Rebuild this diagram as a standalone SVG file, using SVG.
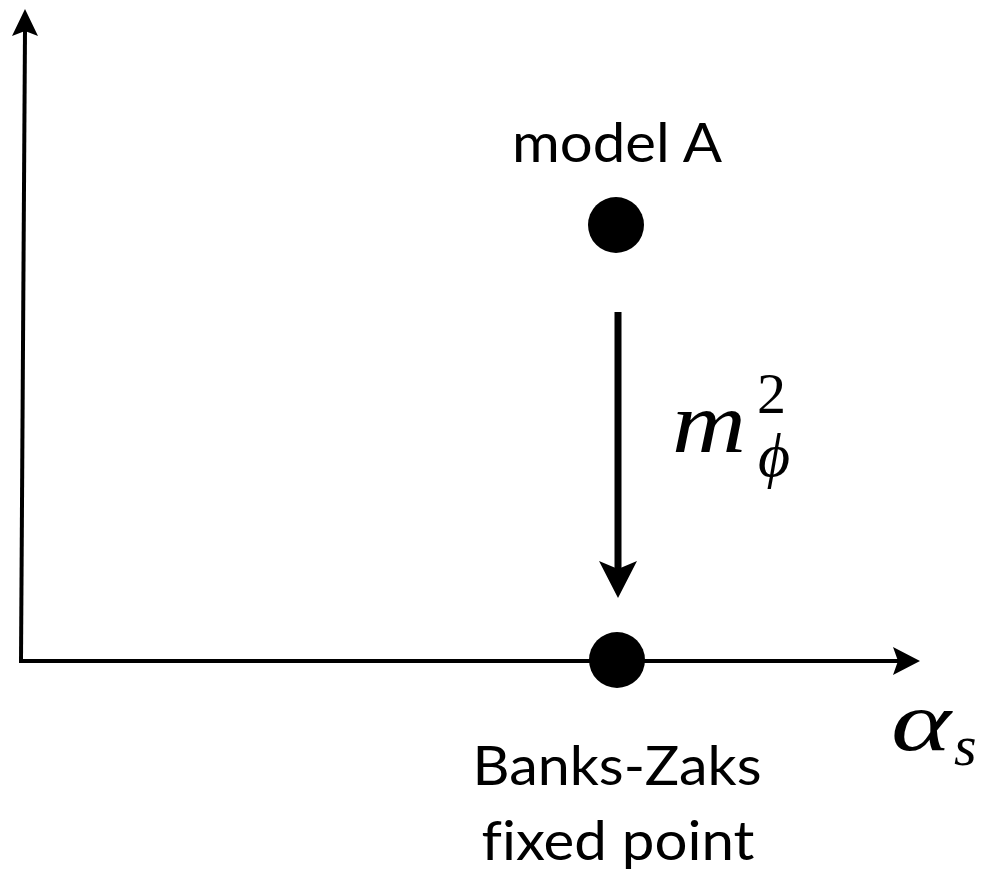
<svg xmlns="http://www.w3.org/2000/svg" width="989" height="881" viewBox="0 0 989 881">
<style>
.lbl{font-family:Lato,"Open Sans","Liberation Sans",sans-serif;font-size:55px;fill:#000;font-variant-ligatures:none}
.math{font-family:"Liberation Serif","DejaVu Serif",serif;font-style:italic;fill:#000}
.up{font-family:"Liberation Serif","DejaVu Serif",serif;font-style:normal;fill:#000}
.ax{stroke:#000;stroke-width:4;fill:none}
.shaft{stroke:#000;stroke-width:7;fill:none}
.head{fill:#000}
.dot{fill:#000}
</style>
<g id="connectors">
<line class="ax" x1="21" y1="661" x2="25" y2="30"/>
<path class="head" d="M25,9 L38,36 L25,31 L12,36 Z"/>
<line class="ax" x1="19" y1="661" x2="900" y2="661"/>
<path class="head" d="M920,661 L893,675 L898,661 L893,647 Z"/>
<line class="shaft" x1="618" y1="312" x2="618" y2="575"/>
<path class="head" d="M618,598 L599,561 L618,569 L637,561 Z"/>
</g>
<g id="modelA">
<circle class="dot" cx="616" cy="225" r="28"/>
<text class="lbl" x="617" y="162" text-anchor="middle" textLength="210" lengthAdjust="spacingAndGlyphs">model A</text>
</g>
<g id="bankszaks">
<circle class="dot" cx="617" cy="660" r="28"/>
<text class="lbl" x="617" y="785" text-anchor="middle" textLength="289" lengthAdjust="spacingAndGlyphs">Banks-Zaks</text>
<text class="lbl" x="618" y="860" text-anchor="middle" textLength="273" lengthAdjust="spacingAndGlyphs">fixed point</text>
</g>
<g id="mlabel">
<text class="math" x="672" y="452" font-size="86" textLength="74" lengthAdjust="spacingAndGlyphs">m</text>
<text class="up" x="757" y="413" font-size="58">2</text>
<text class="math" x="758" y="476" font-size="62">ϕ</text>
</g>
<g id="alabel">
<text class="math" x="891" y="750" font-size="84" textLength="60" lengthAdjust="spacingAndGlyphs">α</text>
<text class="math" x="954" y="765" font-size="58">s</text>
</g>
</svg>
